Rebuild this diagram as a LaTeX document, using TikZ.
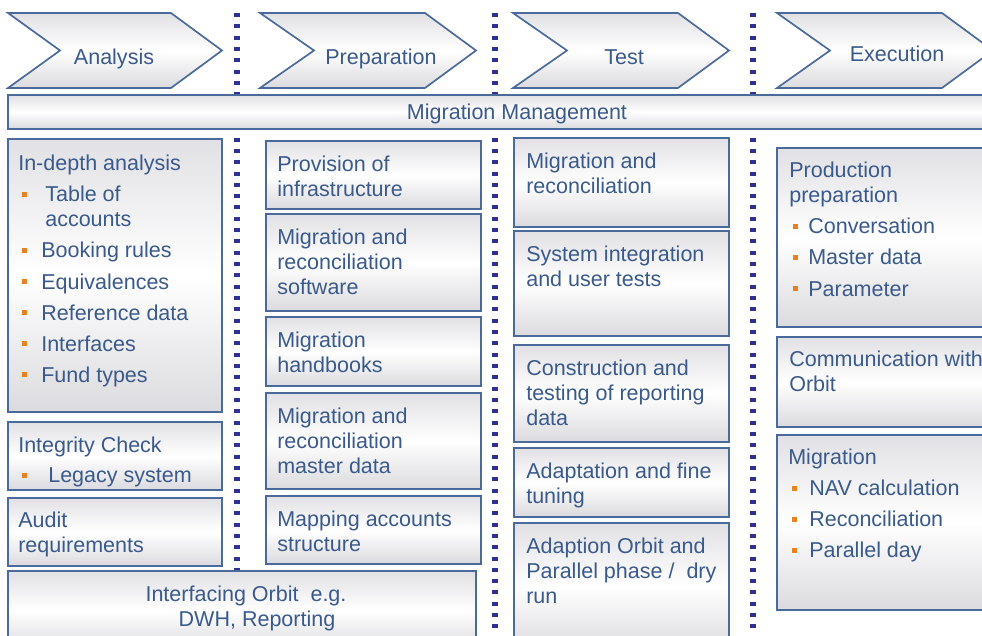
\documentclass[tikz,border=0pt]{standalone}
\usepackage{fontspec}
\setmainfont{Liberation Sans}
\usetikzlibrary{positioning,fit}
\definecolor{frame}{HTML}{4A6A9C}
\definecolor{ink}{HTML}{3A5A8C}
\definecolor{dotblue}{HTML}{2E3192}
\definecolor{bulorange}{HTML}{E8821E}
\definecolor{shadetop}{HTML}{E1E1E5}
\definecolor{shadebot}{HTML}{DBDBDF}
\newlength{\px}\setlength{\px}{0.025cm}
\newcommand{\bul}{\textcolor{bulorange}{\rule[5\px]{5\px}{5\px}}}
\newcommand{\itm}[2][23]{\makebox[#1\px][l]{\hspace{4\px}\bul}#2}
\tikzset{card/.style={draw=frame, line width=1.4pt, top color=shadetop, bottom color=shadebot, middle color=white, inner sep=0pt}}
\tikzset{phase/.style={draw=frame, line width=1.2pt, top color=shadetop, bottom color=shadebot, middle color=white, line join=miter}}
% first baseline lies 13pt under the node top
\tikzset{txt/.style={anchor=north west, align=left, inner sep=0pt, text=ink, font=\fontsize{15.3}{17.8}\selectfont, execute at begin node={\rule{0pt}{13pt}}}}
\tikzset{head/.style={anchor=base, inner sep=0pt, text=ink, font=\fontsize{15.3}{17.8}\selectfont}}
\tikzset{dots/.style={draw=dotblue, line width=0.15cm, dash pattern=on 0.1cm off 0.183cm}}

\begin{document}
\begin{tikzpicture}[x=0.025cm, y=-0.025cm]
		\clip (0,0) rectangle (982,636);
		
		% phase borders
		\draw[dots] (237,13) -- (237,640);
		\draw[dots] (495,13) -- (495,640);
		\draw[dots] (753,13) -- (753,640);
		
		% phases
		\draw[phase] (8,13) -- (171,13) -- (222,50.5) -- (171,88) -- (8,88) -- (60,50.5) -- cycle;
		\node[head] (ana) at (114,64.5) {Analysis};
		\draw[phase] (260,13) -- (425,13) -- (476,50.5) -- (425,88) -- (260,88) -- (314,50.5) -- cycle;
		\node[head] (prep) at (381,64.5) {Preparation};
		\draw[phase] (513,13) -- (678,13) -- (729,50.5) -- (678,88) -- (513,88) -- (567,50.5) -- cycle;
		\node[head] (test) at (624,64.5) {Test};
		\draw[phase] (777,13) -- (942,13) -- (993,50.5) -- (942,88) -- (777,88) -- (830,50.5) -- cycle;
		\node[head] (exec) at (897,61.5) {Execution};
		
		\node[card, fit={(8,95) (995,129)}] (mgmt) {};
		\node[head] (mgmtlbl) at (517,120) {Migration Management};
		
		% analysis
		\node[card, fit={(8,139) (222,412)}] (depth) {};
		\node[txt] (depthlbl) at ([shift={(11,17)}]depth.north west) {In-depth analysis\\[6\px]
			\itm[27]{Table of}\\ \hspace*{27\px}accounts\\[6\px]
			\itm{Booking rules}\\[6\px] \itm{Equivalences}\\[6\px] \itm{Reference data}\\[6\px]
			\itm{Interfaces}\\[6\px] \itm{Fund types}};
		\node[card, fit={(8,422) (222,490)}] (integ) {};
		\node[txt] (integlbl) at ([shift={(11,16)}]integ.north west) {Integrity Check\\[5\px] \itm[30]{Legacy system}};
		\node[card, fit={(8,498) (222,566)}] (audit) {};
		\node[txt] (auditlbl) at ([shift={(11,15)}]audit.north west) {Audit\\requirements};
		\node[card, fit={(8,571) (476,650)}] (iface) {};
		\node[txt, anchor=north, align=center] (ifacelbl) at ([shift={(4,16)}]iface.north) {Interfacing Orbit\ \ e.g.\\\hspace*{22\px}DWH, Reporting};
		
		% preparation
		\node[card, fit={(266,141) (481,209)}] (prov) {};
		\node[txt] (provlbl) at ([shift={(12,16)}]prov.north west) {Provision of\\infrastructure};
		\node[card, fit={(266,214) (481,311)}] (soft) {};
		\node[txt] (softlbl) at ([shift={(12,16)}]soft.north west) {Migration and\\reconciliation\\software};
		\node[card, fit={(266,317) (481,386)}] (hand) {};
		\node[txt] (handlbl) at ([shift={(12,16)}]hand.north west) {Migration\\handbooks};
		\node[card, fit={(266,393) (481,489)}] (master) {};
		\node[txt] (masterlbl) at ([shift={(12,16)}]master.north west) {Migration and\\reconciliation\\master data};
		\node[card, fit={(266,496) (481,564)}] (mapping) {};
		\node[txt] (mappinglbl) at ([shift={(12,16)}]mapping.north west) {Mapping accounts\\structure};
		
		% test
		\node[card, fit={(514,138) (729,227)}] (recon) {};
		\node[txt] (reconlbl) at ([shift={(13,16)}]recon.north west) {Migration and\\reconciliation};
		\node[card, fit={(514,231) (729,336)}] (sit) {};
		\node[txt] (sitlbl) at ([shift={(13,16)}]sit.north west) {System integration\\and user tests};
		\node[card, fit={(514,345) (729,442)}] (constr) {};
		\node[txt] (constrlbl) at ([shift={(13,16)}]constr.north west) {Construction and\\testing of reporting\\data};
		\node[card, fit={(514,448) (729,517)}] (tune) {};
		\node[txt] (tunelbl) at ([shift={(13,16)}]tune.north west) {Adaptation and fine\\tuning};
		\node[card, fit={(514,523) (729,650)}] (dry) {};
		\node[txt] (drylbl) at ([shift={(13,16)}]dry.north west) {Adaption Orbit and\\Parallel phase /\ \ dry\\run};
		
		% execution
		\node[card, fit={(777,148) (995,327)}] (prod) {};
		\node[txt] (prodlbl) at ([shift={(13,15)}]prod.north west) {Production\\preparation\\[6\px]
			\itm[19]{Conversation}\\[6\px] \itm[19]{Master data}\\[6\px] \itm[19]{Parameter}};
		\node[card, fit={(777,337) (995,427)}] (comm) {};
		\node[txt] (commlbl) at ([shift={(13,15)}]comm.north west) {Communication with\\Orbit};
		\node[card, fit={(777,435) (995,610)}] (migr) {};
		\node[txt] (migrlbl) at ([shift={(12,15)}]migr.north west) {Migration\\[6\px]
			\itm[21]{NAV calculation}\\[6\px] \itm[21]{Reconciliation}\\[6\px] \itm[21]{Parallel day}};
	\end{tikzpicture}
\end{document}
